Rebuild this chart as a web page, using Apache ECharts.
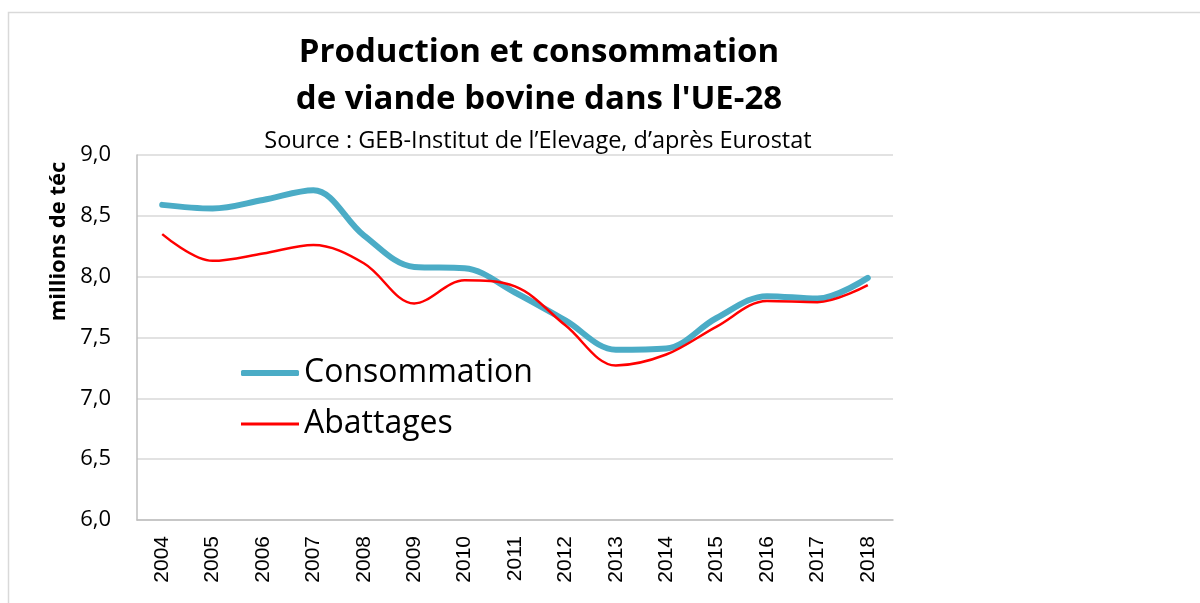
<!DOCTYPE html>
<html>
<head>
<meta charset="utf-8">
<script src="https://cdn.jsdelivr.net/npm/echarts@6/dist/echarts.min.js"></script>
<style>
  html, body { margin: 0; padding: 0; background: #fff; }
  #chart { width: 1200px; height: 603px; }
</style>
</head>
<body>
<div id="chart"></div>
<script>
const years = ["2004", "2005", "2006", "2007", "2008", "2009", "2010", "2011", "2012", "2013", "2014", "2015", "2016", "2017", "2018"];
const consommation = [8.59, 8.56, 8.63, 8.71, 8.34, 8.08, 8.07, 7.87, 7.64, 7.40, 7.41, 7.66, 7.84, 7.82, 7.99];
const abattages = [8.35, 8.13, 8.19, 8.26, 8.11, 7.78, 7.97, 7.92, 7.60, 7.27, 7.36, 7.59, 7.80, 7.79, 7.93];

const chartDom = echarts.init(document.getElementById("chart"));
const font = "'Open Sans', sans-serif";

const legendText = { fontFamily: font, fontSize: 32, color: "#000" };

chartDom.setOption({
  animation: false,
  graphic: [
    {
      type: "rect",
      shape: { x: 8.5, y: 12.5, width: 1200, height: 600 },
      style: { fill: "none", stroke: "#d9d9d9", lineWidth: 1.5 }
    }
  ],
  title: [
    {
      text: "Production et consommation\nde viande bovine dans l'UE-28",
      left: 534,
      top: 24,
      textAlign: "center",
      textStyle: { fontFamily: font, fontSize: 33, fontWeight: "bold", color: "#000", lineHeight: 47 }
    },
    {
      text: "Source : GEB-Institut de l’Elevage, d’après Eurostat",
      left: 533,
      top: 124,
      textAlign: "center",
      textStyle: { fontFamily: font, fontSize: 23.5, fontWeight: "normal", color: "#000" }
    }
  ],
  legend: [
    {
      left: 236,
      top: 352,
      itemWidth: 58,
      itemHeight: 6,
      itemGap: 0,
      icon: "roundRect",
      data: [{ name: "Consommation", itemStyle: { color: "#4BACC6" } }],
      textStyle: legendText
    },
    {
      left: 236,
      top: 403,
      itemWidth: 58,
      itemHeight: 3,
      itemGap: 0,
      icon: "rect",
      data: [{ name: "Abattages", itemStyle: { color: "#FF0000" } }],
      textStyle: legendText
    }
  ],
  grid: {
    left: 137,
    right: 307,
    top: 155,
    bottom: 83
  },
  xAxis: [
    {
      type: "category",
      data: years,
      boundaryGap: true,
      axisLine: { lineStyle: { color: "#bfbfbf", width: 1.5 } },
      axisTick: { show: false },
      axisLabel: {
        rotate: 90,
        margin: 16,
        fontFamily: "'Liberation Sans', sans-serif",
        fontSize: 21,
        color: "#000"
      }
    }
  ],
  yAxis: [
    {
      type: "value",
      min: 6,
      max: 9,
      interval: 0.5,
      name: "millions de téc",
      nameLocation: "middle",
      nameGap: 43,
      nameTextStyle: {
        fontFamily: font,
        fontSize: 22,
        fontWeight: "bold",
        color: "#000",
        padding: [0, 0, 0, 192]
      },
      axisLine: { show: true, lineStyle: { color: "#bfbfbf", width: 1.5 } },
      axisTick: { show: false },
      splitLine: { lineStyle: { color: "#d9d9d9", width: 1.5 } },
      axisLabel: {
        margin: 26,
        fontFamily: font,
        fontSize: 22,
        color: "#000",
        formatter: v => v.toFixed(1).replace(".", ",")
      }
    }
  ],
  series: [
    {
      name: "Consommation",
      type: "line",
      smooth: 0.35,
      symbol: "none",
      data: consommation,
      lineStyle: { color: "#4BACC6", width: 6, cap: "round" },
      itemStyle: { color: "#4BACC6" }
    },
    {
      name: "Abattages",
      type: "line",
      smooth: 0.35,
      symbol: "none",
      data: abattages,
      lineStyle: { color: "#FF0000", width: 2.5 },
      itemStyle: { color: "#FF0000" }
    }
  ]
});
window.addEventListener("resize", chartDom.resize);
</script>
</body>
</html>
